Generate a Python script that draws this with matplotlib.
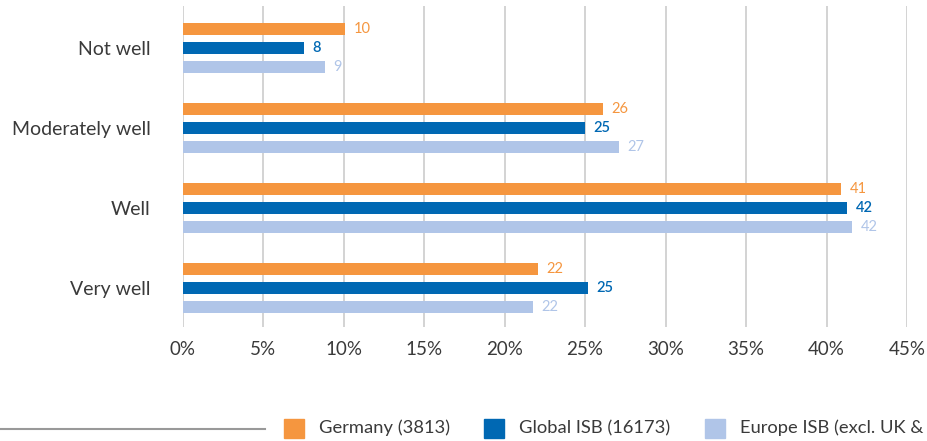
import matplotlib
matplotlib.use("Agg")
import matplotlib.pyplot as plt
from matplotlib.patches import Rectangle
from matplotlib.lines import Line2D
import numpy as np

categories = ["Not well", "Moderately well", "Well", "Very well"]
series = ["Germany (3813)", "Global ISB (16173)", "Europe ISB (excl. UK &"]
germany = [10.1, 26.1, 40.9, 22.1]
global_isb = [7.55, 25.0, 41.3, 25.2]
europe_isb = [8.86, 27.1, 41.6, 21.75]
labels = [[10, 26, 41, 22], [8, 25, 42, 25], [9, 27, 42, 22]]
ticks = [0, 5, 10, 15, 20, 25, 30, 35, 40, 45]

colors = ["#f5963f", "#0068b3", "#b0c5e8"]
weights = ["normal", "semibold", "normal"]
text_col = "#3a3a3a"

plt.rcParams["font.family"] = ["Lato", "DejaVu Sans"]

fig = plt.figure(figsize=(9.27, 4.41), dpi=100)
ax = fig.add_axes([182.7 / 927, 1 - 327 / 441, (907 - 182.7) / 927, (327 - 6) / 441])

y = np.arange(len(categories))
offsets = [-0.2375, 0, 0.2375]
bar_h = 0.143
for i, vals in enumerate([germany, global_isb, europe_isb]):
    ax.barh(y + offsets[i], vals, height=bar_h, color=colors[i], zorder=3)
    for j, v in enumerate(vals):
        ax.annotate(str(labels[i][j]), (v, y[j] + offsets[i]), xytext=(6, 0),
                    textcoords="offset points", va="center", ha="left",
                    fontsize=10.5, color=colors[i], fontweight=weights[i])

ax.set_xlim(0, 45)
ax.set_ylim(3.4875, -0.525)
ax.set_xticks(ticks)
ax.set_xticklabels([f"{t}%" for t in ticks])
ax.set_yticks(y)
ax.set_yticklabels(categories)
ax.xaxis.grid(True, color="#c8c8c8", linewidth=1.1, zorder=0)
ax.tick_params(axis="x", length=0, pad=10, labelsize=13.5, colors=text_col)
ax.tick_params(axis="y", length=0, pad=23, labelsize=14, colors=text_col)
for s in ax.spines.values():
    s.set_visible(False)

# legend strip along the bottom
fig.add_artist(Line2D([0, 265 / 927], [1 - 429 / 441] * 2, color="#999999", lw=1.5))
sq_x = [284, 484, 705]
for i, name in enumerate(series):
    fig.add_artist(Rectangle((sq_x[i] / 927, 1 - 438 / 441), 20 / 927, 19 / 441,
                             color=colors[i], transform=fig.transFigure))
    fig.text((sq_x[i] + 35) / 927, 1 - 428 / 441, name, fontsize=13.2,
             color=text_col, va="center", ha="left")

fig.savefig("out.png", dpi=100)
